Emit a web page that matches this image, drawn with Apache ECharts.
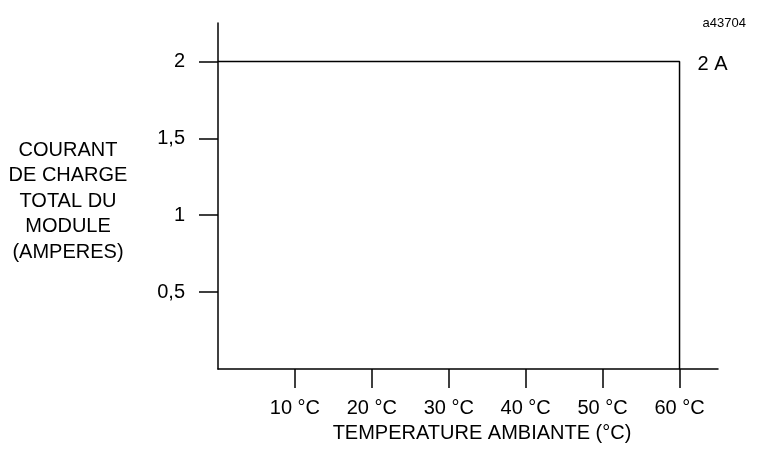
<!DOCTYPE html>
<html>
<head>
<meta charset="utf-8">
<script src="https://cdn.jsdelivr.net/npm/echarts@6/dist/echarts.min.js"></script>
<style>html,body{margin:0;padding:0;background:#fff}#c{width:757px;height:452px}</style>
</head>
<body>
<div id="c"></div>
<script>
var xTicks = [10, 20, 30, 40, 50, 60];
var xTickLabels = ['10 °C', '20 °C', '30 °C', '40 °C', '50 °C', '60 °C'];
var yTicks = [0.5, 1, 1.5, 2];
var yTickLabels = ['0,5', '1', '1,5', '2'];
var curveX = [0, 60, 60];
var curveY = [2, 2, 0];
var limitLabel = '2 A';
var xTitle = 'TEMPERATURE AMBIANTE (°C)';
var yTitle = 'COURANT\nDE CHARGE\nTOTAL DU\nMODULE\n(AMPERES)';
var figRef = 'a43704';

var FONT = 'Liberation Sans, Arial, sans-serif';
var chart = echarts.init(document.getElementById('c'), null, {renderer: 'canvas'});
var data = curveX.map(function (x, i) {
  var item = {value: [x, curveY[i]]};
  if (i === 1) {
    item.label = {show: true, position: 'right', distance: 18, offset: [0, 3], formatter: limitLabel,
      color: '#000', fontSize: 20, fontFamily: FONT};
  }
  return item;
});
chart.setOption({
  animation: false,
  backgroundColor: '#fff',
  title: {text: figRef, right: 6, top: 12,
    textStyle: {fontSize: 13, fontWeight: 'normal', color: '#000', fontFamily: FONT}},
  graphic: [{
    type: 'text', x: 68, y: 201,
    style: {text: yTitle, align: 'center', verticalAlign: 'middle', fill: '#000',
      fontSize: 20, lineHeight: 25.5, fontFamily: FONT}
  }],
  grid: {left: 218, right: 39, top: 23, bottom: 83, containLabel: false},
  xAxis: {
    type: 'value', min: 0, max: 65,
    name: xTitle, nameLocation: 'middle', nameGap: 54,
    nameTextStyle: {fontSize: 20, color: '#000', fontFamily: FONT, lineHeight: 20, padding: [0, 0, 0, 28]},
    axisLine: {show: true, lineStyle: {color: '#000', width: 1.5}},
    axisTick: {show: true, length: 19, lineStyle: {color: '#000', width: 1.5}, customValues: xTicks},
    axisLabel: {margin: 29, color: '#000', fontSize: 20, fontFamily: FONT, customValues: xTicks,
      formatter: function (v) { var i = xTicks.indexOf(v); return i >= 0 ? xTickLabels[i] : ''; }},
    splitLine: {show: false}
  },
  yAxis: {
    type: 'value', min: 0, max: 2.25,
    axisLine: {show: true, lineStyle: {color: '#000', width: 1.5}},
    axisTick: {show: true, length: 19, lineStyle: {color: '#000', width: 1.5}, customValues: yTicks},
    axisLabel: {margin: 33, color: '#000', fontSize: 20, fontFamily: FONT, customValues: yTicks,
      formatter: function (v) { var i = yTicks.indexOf(v); return i >= 0 ? yTickLabels[i] : ''; }},
    splitLine: {show: false}
  },
  series: [{
    type: 'line', data: data, showSymbol: true, symbol: 'circle', symbolSize: 0,
    lineStyle: {color: '#000', width: 1.5}, itemStyle: {color: '#000'}
  }]
});
</script>
</body>
</html>
